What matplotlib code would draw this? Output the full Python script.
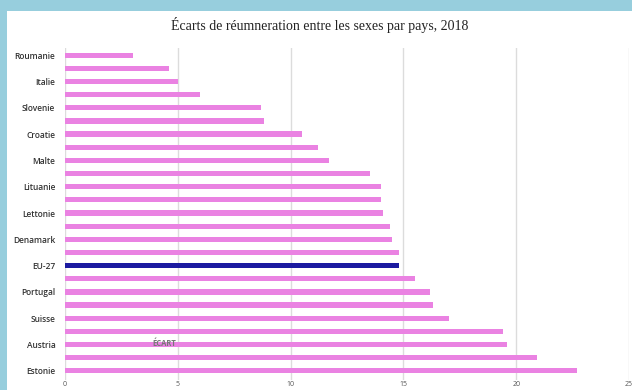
import matplotlib
matplotlib.use("Agg")
import matplotlib.pyplot as plt
from matplotlib.patches import Rectangle

title = "Écarts de réumneration entre les sexes par pays, 2018"
countries = ["Roumanie", "", "Italie", "", "Slovenie", "", "Croatie", "", "Malte", "",
             "Lituanie", "", "Lettonie", "", "Denamark", "", "EU-27", "", "Portugal", "",
             "Suisse", "", "Austria", "", "Estonie"]
values = [3.0, 4.6, 5.0, 6.0, 8.7, 8.8, 10.5, 11.2, 11.7, 13.5,
          14.0, 14.0, 14.1, 14.4, 14.5, 14.8, 14.8, 15.5, 16.2, 16.3,
          17.0, 19.4, 19.6, 20.9, 22.7]
highlight = "EU-27"
xticks = [0, 5, 10, 15, 20, 25]
axis_label = "ÉCART"

W, H = 632, 390
fig = plt.figure(figsize=(W / 100, H / 100), dpi=100)
fig.patch.set_facecolor("#97CEDD")
fig.patches.append(Rectangle((7 / W, 0), 1 - 7 / W, 1 - 11 / H, transform=fig.transFigure,
                             facecolor="white", edgecolor="none", zorder=-5))

ax = fig.add_axes([65 / W, 1 - 380 / H, (629 - 65) / W, (380 - 48) / H])
ax.set_zorder(2)
ax.set_facecolor("none")
pos = list(range(len(values)))
colors = ["#1C1AA0" if c == highlight else "#EA82E2" for c in countries]
ax.barh(pos, values, height=0.4, color=colors, zorder=3)
ax.set_xlim(0, 25)
ax.set_ylim(24.7, -0.55)
ax.set_xticks(xticks)
ax.set_xticklabels([str(t) for t in xticks], fontsize=5, color="#555555", family="Open Sans")
ax.set_yticks(pos)
ax.set_yticklabels(countries, fontsize=6, color="#333333", family="Open Sans", fontweight="semibold")
ax.tick_params(axis="both", length=0)
ax.tick_params(axis="y", pad=7)
ax.tick_params(axis="x", pad=1)
ax.grid(axis="x", color="#DCDCDC", linewidth=1, zorder=0)
for s in ax.spines.values():
    s.set_visible(False)

fig.text(320 / W, 1 - 25 / H, title, ha="center", va="center", fontsize=10,
         family="Liberation Serif", color="#222222", zorder=5)
ax.text(164 / W, 1 - 344 / H, axis_label, transform=fig.transFigure, ha="center", va="center",
        fontsize=5.5, color="#777777", fontweight="bold", family="Open Sans", zorder=6)

fig.savefig("out.png", dpi=100, facecolor=fig.get_facecolor())
